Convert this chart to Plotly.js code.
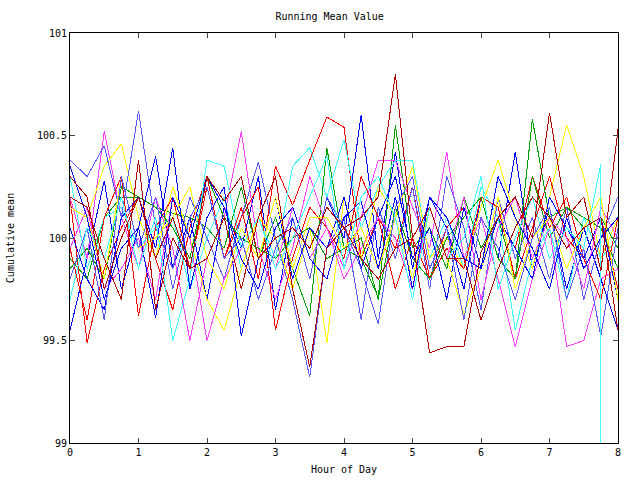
<!DOCTYPE html>
<html>
<head>
<meta charset="utf-8">
<script src="https://cdn.plot.ly/plotly-3.0.1.min.js"></script>
<style>html,body{margin:0;padding:0;background:#fff;}#chart{width:640px;height:480px;}
#chart path.js-line{shape-rendering:crispEdges;}</style>
</head>
<body>
<div id="chart"></div>
<script>
// Hours sampled every 15 minutes, 0..8
const hours = [0,0.25,0.5,0.75,1,1.25,1.5,1.75,2,2.25,2.5,2.75,3,3.25,3.5,3.75,4,4.25,4.5,4.75,5,5.25,5.5,5.75,6,6.25,6.5,6.75,7,7.25,7.5,7.75,8];

const red1 = [100.2,99.49,99.85,100.05,100.2,99.9,99.65,100.05,100.3,99.9,100.15,99.8,100.35,100.16,100.38,100.59,100.54,99.9,100.1,99.95,100.25,99.8,100.05,100.15,99.85,100.1,99.95,100.3,100.05,100.2,99.9,100.1,99.75];
const red2 = [99.95,99.6,100.1,100.3,99.62,100.05,100.2,99.85,100.25,99.9,100.1,100.25,99.55,99.9,100.15,100.05,99.9,100.3,100.1,99.75,100.0,99.8,99.95,99.85,100.2,100.15,99.8,100.05,100.3,100.0,99.9,99.7,100.1];
const green1 = [99.9,99.8,100.1,100.2,100.2,100.15,100.12,100.1,100.05,99.95,100.25,99.9,100.1,99.85,99.62,100.44,99.95,99.9,99.71,100.55,99.95,100.05,99.85,100.2,99.95,100.1,99.8,100.3,100.0,100.15,100.1,100.05,99.85];
const green2 = [99.85,99.95,99.8,100.25,100.2,100.15,100.05,99.9,100.3,100.1,100.0,99.95,99.9,100.0,100.05,99.9,99.95,100.0,99.7,100.15,99.9,99.8,100.0,100.1,100.2,99.9,99.8,100.58,100.1,100.15,100.05,100.1,99.95];
const blue1 = [99.55,99.9,100.28,99.75,100.05,100.4,99.85,100.1,99.7,100.15,99.95,100.3,99.65,100.1,99.8,100.2,100.0,100.6,99.9,100.42,99.85,100.2,100.05,99.75,100.2,99.9,100.42,99.85,100.15,99.75,100.05,99.8,99.55];
const blue2 = [100.05,99.8,99.65,100.1,100.2,99.95,100.44,99.75,100.1,100.25,99.52,99.9,100.2,99.8,100.05,99.95,100.2,99.85,100.1,100.3,99.9,100.05,99.7,100.15,99.85,100.1,99.95,99.8,100.2,100.05,99.9,100.1,99.7];
const blue3 = [100.35,100.1,99.7,99.95,100.05,99.61,100.2,100.0,100.3,100.15,99.9,99.75,100.05,100.15,99.9,99.8,100.1,100.18,99.85,100.2,99.75,100.2,100.1,99.9,99.85,100.3,100.1,99.95,99.75,100.1,99.85,100.0,100.1];
const lightblue1 = [100.38,100.3,100.45,100.1,100.62,100.05,99.85,100.2,100.0,99.8,100.1,100.37,100.0,99.7,99.32,99.95,100.1,99.6,100.15,99.9,100.25,99.75,100.3,100.05,99.65,100.2,99.9,100.1,99.8,100.15,99.7,100.0,100.2];
const lightblue2 = [99.8,100.05,99.6,100.3,99.95,100.2,99.75,100.1,100.25,99.9,100.0,99.7,99.95,100.1,99.8,100.2,100.05,99.85,99.58,100.15,100.3,99.85,100.05,99.6,100.1,99.95,99.7,100.0,100.15,99.7,99.95,99.52,100.05];
const magenta1 = [100.2,99.9,100.52,100.1,99.85,100.2,99.95,99.5,99.9,100.1,100.52,99.95,99.7,99.95,100.3,100.05,99.85,100.1,100.38,100.38,100.15,99.95,100.42,99.9,100.1,99.8,99.47,99.8,100.05,99.47,99.5,99.8,99.85];
const magenta2 = [99.95,100.15,99.75,99.85,100.0,99.7,100.2,100.0,99.5,99.8,99.95,100.1,99.85,100.15,99.9,100.05,99.8,99.95,100.1,100.0,99.75,100.15,99.9,100.2,99.7,100.05,100.2,99.9,100.1,100.0,99.75,100.15,100.0];
const cyan1 = [99.7,100.05,99.9,100.2,99.85,100.1,99.5,99.8,100.38,100.35,99.95,100.1,99.85,100.0,100.2,100.4,99.85,100.2,100.3,100.1,99.7,100.15,99.9,100.0,100.3,99.75,100.0,100.2,99.9,100.05,99.95,100.36];
const cyan1TailHours = [7.75];
const cyan1TailValues = [97.0];
const cyan2 = [100.3,99.85,100.1,100.15,99.95,100.05,100.1,99.75,100.0,100.2,99.85,100.1,99.9,100.35,100.44,100.2,100.48,100.05,100.25,100.38,100.38,99.9,100.1,99.85,100.25,100.1,99.55,99.9,100.05,99.7,100.1,99.9,100.0];
const yellow1 = [100.15,100.1,100.35,100.46,100.1,99.9,100.25,100.0,99.7,99.55,99.85,100.1,100.0,99.75,100.05,99.49,100.2,99.9,100.25,100.1,100.35,99.9,100.0,99.85,100.15,100.38,100.1,99.85,100.2,100.55,100.3,99.9,100.1];
const yellow2 = [100.15,100.1,99.8,100.3,99.95,100.0,100.1,100.25,99.9,99.75,100.05,99.9,100.2,99.85,100.1,100.1,99.95,100.05,99.85,100.1,99.8,100.15,99.9,99.63,99.85,100.2,99.75,100.0,100.1,99.85,100.05,100.2,99.7];
const darkred1 = [100.3,100.2,99.75,100.0,100.2,99.9,100.1,99.85,99.9,100.1,99.75,100.1,100.3,99.75,99.37,99.95,100.05,100.1,100.2,100.8,100.0,99.44,99.47,99.47,99.93,100.1,100.2,100.0,100.61,100.1,100.2,99.84,100.53];
const darkred2 = [100.2,100.15,99.9,99.7,100.38,99.65,100.0,99.85,100.3,100.18,100.3,99.9,100.0,100.05,99.95,100.15,100.05,99.9,99.8,99.95,100.0,100.15,99.9,99.9,99.6,99.85,100.05,100.2,100.1,99.95,100.05,100.1,99.55];

const seriesList = [
  {y: red1, c: '#ff0000'}, {y: green1, c: '#00a000'}, {y: blue1, c: '#0000ff'},
  {y: magenta1, c: '#ff40ff'}, {y: cyan2, c: '#40ffff'}, {y: yellow1, c: '#ffff00'},
  {y: lightblue1, c: '#5a5aff'}, {y: red2, c: '#ff0000'}, {y: green2, c: '#00a000'},
  {y: blue2, c: '#0000ff'}, {y: magenta2, c: '#ff40ff'}, {y: yellow2, c: '#ffff00'},
  {y: lightblue2, c: '#5a5aff'}, {y: blue3, c: '#0000ff'},
  {y: cyan1, c: '#40ffff', tail: true},
  {y: darkred2, c: '#b00000'}, {y: darkred1, c: '#b00000'}
];

const traces = seriesList.map(s => {
  let x = hours.slice(0, s.y.length);
  let y = s.y.slice();
  if (s.tail) { x = x.concat(cyan1TailHours); y = y.concat(cyan1TailValues); }
  return {x: x, y: y, type: 'scatter', mode: 'lines', line: {color: s.c, width: 1}, hoverinfo: 'none'};
});

const font = {family: 'DejaVu Sans Mono, monospace', size: 10, color: '#000'};
const layout = {
  width: 640, height: 480,
  margin: {l: 70, r: 22, t: 33, b: 37},
  paper_bgcolor: '#fff', plot_bgcolor: '#fff',
  showlegend: false,
  font: font,
  title: {text: 'Running Mean Value', x: 0.515, xanchor: 'center', y: 0.965, yanchor: 'middle', font: font},
  xaxis: {range: [0, 8], tickvals: [0,1,2,3,4,5,6,7,8], ticks: 'inside', ticklen: 5, mirror: 'ticks',
          showline: true, linecolor: '#000', linewidth: 1, showgrid: false, zeroline: false,
          tickfont: font, title: {text: 'Hour of Day', font: font, standoff: 8}},
  yaxis: {range: [99, 101], tickvals: [99, 99.5, 100, 100.5, 101], ticktext: ['99','99.5','100','100.5','101'],
          ticks: 'inside', ticklen: 5, mirror: 'ticks', showline: true, linecolor: '#000', linewidth: 1,
          showgrid: false, zeroline: false, tickfont: font,
          title: {text: 'Cumulative mean', font: font, standoff: 20}}
};
Plotly.newPlot('chart', traces, layout, {staticPlot: true, displayModeBar: false});
</script>
</body>
</html>
